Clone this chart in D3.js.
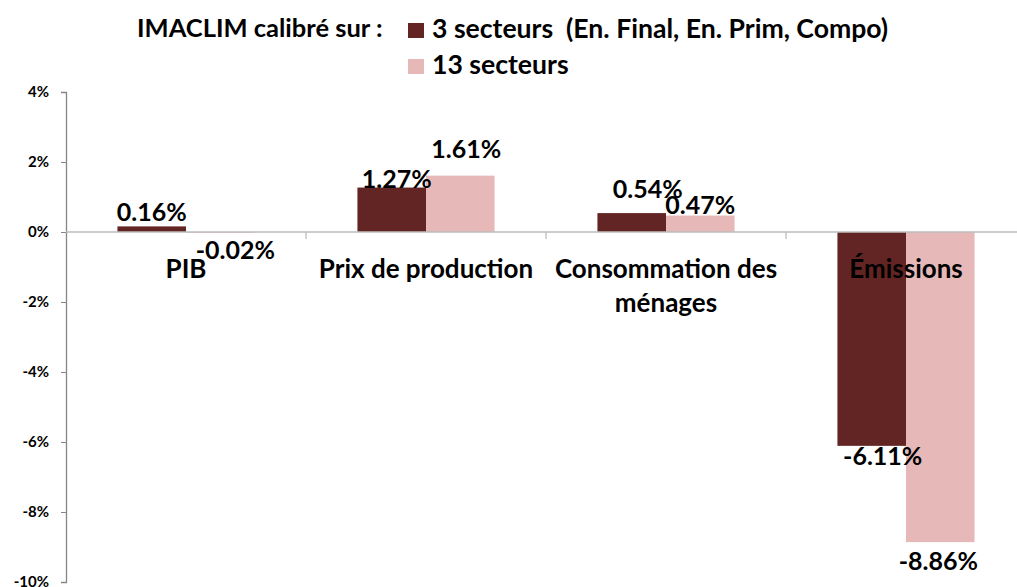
<!DOCTYPE html>
<html>
<head>
<meta charset="utf-8">
<script src="https://cdn.jsdelivr.net/npm/d3@7"></script>
<style>
  body { margin: 0; background: #fff; }
  text { font-family: Lato, "Open Sans", sans-serif; font-weight: bold; fill: #000; }
</style>
</head>
<body>
<script>
// data
const categories = ["PIB", "Prix de production", "Consommation des ménages", "Émissions"];
const series = ["3 secteurs  (En. Final, En. Prim, Compo)", "13 secteurs"];
const values3 = [0.16, 1.27, 0.54, -6.11];
const values13 = [-0.02, 1.61, 0.47, -8.86];
const yTicks = [4, 2, 0, -2, -4, -6, -8, -10];

const width = 1017, height = 587;
const colors = ["#632523", "#e6b9b8"];
const pct = d => d3.format(".2f")(d).replace("−", "-") + "%";

const svg = d3.select("body").append("svg")
  .attr("width", width)
  .attr("height", height);

// plot area: axis at x=66, four groups of 240px (last one runs off the page like in the original)
const margin = { left: 66, top: 92 };
const plotW = 960, plotH = 490;

const x0 = d3.scaleBand()
  .domain(categories)
  .range([margin.left, margin.left + plotW])
  .paddingInner(0).paddingOuter(0);

const x1 = d3.scaleBand()
  .domain(series)
  .range([0, x0.bandwidth()])
  .paddingInner(0).paddingOuter(0.75);

const y = d3.scaleLinear()
  .domain([4, -10])
  .range([margin.top, margin.top + plotH]);

const rows = categories.map((c, i) => ({
  cat: c,
  vals: [values3[i], values13[i]].map((v, j) => ({ s: series[j], v, j }))
}));

// bars
const groups = svg.append("g").selectAll("g")
  .data(rows)
  .join("g")
  .attr("transform", d => `translate(${x0(d.cat)},0)`);

groups.selectAll("rect")
  .data(d => d.vals)
  .join("rect")
  .attr("x", d => x1(d.s))
  .attr("width", x1.bandwidth())
  .attr("y", d => y(Math.max(0, d.v)))
  .attr("height", d => Math.abs(y(d.v) - y(0)))
  .attr("fill", d => colors[d.j]);

// y axis
const yAxis = svg.append("g")
  .attr("transform", `translate(${margin.left},0)`)
  .call(d3.axisLeft(y).tickValues(yTicks).tickSize(5).tickPadding(12)
    .tickFormat(d => String(d).replace("−", "-") + "%"));
yAxis.select(".domain").attr("stroke", "#868686").attr("stroke-width", 1.3);
yAxis.selectAll(".tick line").attr("stroke", "#868686");
yAxis.selectAll(".tick text").style("font-size", "15px").attr("dy", "0.3em");

// zero line with category tick marks
svg.append("line")
  .attr("x1", margin.left).attr("x2", width)
  .attr("y1", y(0)).attr("y2", y(0))
  .attr("stroke", "#bdbdbd").attr("stroke-width", 1.3);

svg.append("g").selectAll("line")
  .data(categories.slice(1))
  .join("line")
  .attr("x1", d => x0(d)).attr("x2", d => x0(d))
  .attr("y1", y(0)).attr("y2", y(0) + 7)
  .attr("stroke", "#bdbdbd").attr("stroke-width", 1.3);

// category labels (wrap like Excel)
const catLines = { "Consommation des ménages": ["Consommation des", "ménages"] };
svg.append("g").selectAll("text")
  .data(categories)
  .join("text")
  .attr("text-anchor", "middle")
  .style("font-size", "26px")
  .attr("x", d => x0(d) + x0.bandwidth() / 2)
  .attr("y", 278)
  .each(function (d) {
    const lines = catLines[d] || [d];
    d3.select(this).selectAll("tspan")
      .data(lines)
      .join("tspan")
      .attr("x", x0(d) + x0.bandwidth() / 2)
      .attr("dy", (l, i) => i ? 34 : 0)
      .text(l => l);
  });

// data labels, nudged like the hand-placed labels in the original
const nudge = [
  [[0, -5], [15, 26]],
  [[5, 0], [6, -18]],
  [[16, -15], [0, -2]],
  [[11, 19], [-2, 28]]
];
groups.selectAll("text.lbl")
  .data((d, i) => d.vals.map(v => ({ ...v, n: nudge[i][v.j] })))
  .join("text")
  .attr("class", "lbl")
  .attr("text-anchor", "middle")
  .style("font-size", "25px")
  .attr("x", d => x1(d.s) + x1.bandwidth() / 2 + d.n[0])
  .attr("y", d => y(d.v) + d.n[1])
  .text(d => pct(d.v));

// title + legend
svg.append("text")
  .attr("x", 137).attr("y", 37)
  .style("font-size", "25.5px")
  .text("IMACLIM calibré sur :");

const legend = svg.append("g").selectAll("g")
  .data(series)
  .join("g")
  .attr("transform", (d, i) => `translate(408,${23 + i * 36})`);
legend.append("rect")
  .attr("width", 16).attr("height", 15)
  .attr("fill", (d, i) => colors[i]);
legend.append("text")
  .attr("x", 24).attr("y", 15)
  .style("font-size", "26.6px")
  .style("white-space", "pre")
  .text(d => d);
</script>
</body>
</html>
